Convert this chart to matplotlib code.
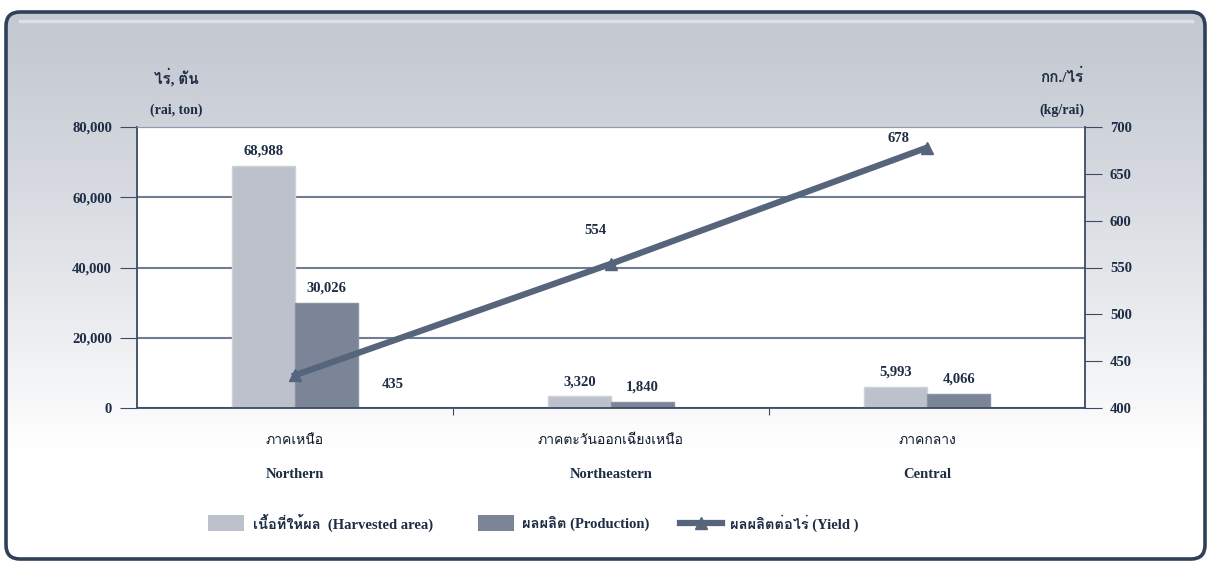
import numpy as np
import matplotlib
matplotlib.use("Agg")
import matplotlib.pyplot as plt
from matplotlib import font_manager, ft2font
from matplotlib.patches import FancyBboxPatch, Rectangle

# data
regions_th = ["ภาคเหนือ", "ภาคตะวันออกเฉียงเหนือ", "ภาคกลาง"]
regions_en = ["Northern", "Northeastern", "Central"]
harvested = [68988, 3320, 5993]
production = [30026, 1840, 4066]
yield_kg = [435, 554, 678]

# find a font that can draw Thai
thai_font = None
for f in font_manager.fontManager.ttflist:
    try:
        if 0x0E01 in ft2font.FT2Font(f.fname).get_charmap():
            thai_font = f.name
            break
    except Exception:
        pass
fams = ["Liberation Serif"] + ([thai_font] if thai_font else []) + ["DejaVu Sans"]
plt.rcParams["font.family"] = fams
plt.rcParams["font.weight"] = "bold"

TXT = "#1e2c44"
LIGHT = "#bcc1cb"
DARK = "#7b8597"
LINE = "#56647c"
FS = 10.5

fig = plt.figure(figsize=(12.11, 5.64), dpi=100)

# outer rounded panel with gradient (pixel coords)
bg = fig.add_axes([0, 0, 1, 1])
bg.set_xlim(0, 1211)
bg.set_ylim(564, 0)
bg.axis("off")
grad = np.linspace(0, 1, 256).reshape(-1, 1)
grad = np.clip(grad / 0.8, 0, 1) ** 1.2
c0 = np.array([0.765, 0.785, 0.82])
c1 = np.array([1.0, 1.0, 1.0])
img = c0 + (c1 - c0) * grad[..., None]
img = np.repeat(img, 2, axis=1)
panel = FancyBboxPatch((6, 12), 1199, 547, boxstyle="round,pad=0,rounding_size=14",
                       facecolor="none", edgecolor="#2f4059", linewidth=2.6, zorder=3)
im = bg.imshow(img, extent=(6, 1205, 559, 12), aspect="auto", zorder=1)
bg.add_patch(panel)
im.set_clip_path(panel)
bg.plot([20, 1192], [21, 21], color="white", lw=2.5, alpha=0.45, zorder=2)

ax = fig.add_axes([137 / 1211, 1 - 408 / 564, (1085 - 137) / 1211, (408 - 127) / 564])
ax.set_facecolor("white")
x = np.arange(len(regions_en))
w = 0.2
ax.bar(x - w / 2, harvested, w, color=LIGHT, edgecolor="#cdd1d8", linewidth=1, zorder=2)
ax.bar(x + w / 2, production, w, color=DARK, edgecolor="#8a93a3", linewidth=1, zorder=2)
ax.set_xlim(-0.5, 2.5)
ax.set_ylim(0, 80000)
ax.set_yticks([0, 20000, 40000, 60000, 80000])
ax.set_yticklabels([f"{v:,}" for v in [0, 20000, 40000, 60000, 80000]])
ax.yaxis.grid(True, color="#6f7c92", linewidth=1.5, zorder=1)
ax.set_axisbelow(True)
ax.set_xticks([0.5, 1.5])
ax.set_xticklabels([])
ax.tick_params(axis="x", length=5, color="#3c4a62", direction="out")
ax.tick_params(axis="y", length=12, color="#3c4a62", labelsize=FS, labelcolor=TXT, pad=6)
for s in ["left", "bottom"]:
    ax.spines[s].set_color("#3c4a62")
    ax.spines[s].set_linewidth(1.3)
ax.spines["top"].set_color("#8f9aab")
ax.spines["right"].set_visible(False)

for i in range(3):
    ax.text(x[i] - w / 2, harvested[i] + 2300, f"{harvested[i]:,}", ha="center", va="bottom",
            fontsize=FS, color=TXT)
    ax.text(x[i] + w / 2, production[i] + 2300, f"{production[i]:,}", ha="center", va="bottom",
            fontsize=FS, color=TXT)

ax2 = ax.twinx()
ax2.set_ylim(400, 700)
ax2.set_yticks(range(400, 701, 50))
ax2.plot(x, yield_kg, color=LINE, lw=4.5, marker="^", markersize=9, zorder=5)
ax2.tick_params(axis="y", length=12, color="#3c4a62", labelsize=FS, labelcolor=TXT, pad=6)
ax2.spines["right"].set_color("#3c4a62")
ax2.spines["right"].set_linewidth(1.3)
for s in ["left", "top", "bottom"]:
    ax2.spines[s].set_visible(False)
offs = [(0.31, -10), (-0.05, 35), (-0.09, 10)]
for i in range(3):
    ax2.text(x[i] + offs[i][0], yield_kg[i] + offs[i][1], str(yield_kg[i]), ha="center",
             va="center", fontsize=FS, color=TXT)

# category labels
for i in range(3):
    xf = (137 + (x[i] + 0.5) * 316) / 1211
    fig.text(xf, 1 - 440 / 564, regions_th[i], ha="center", va="center", fontsize=10,
             color="#0f1a2c", fontweight="normal")
    fig.text(xf, 1 - 475 / 564, regions_en[i], ha="center", va="center", fontsize=FS,
             color=TXT)

# axis headers
bg.text(176, 77, "ไร่, ตัน", ha="center", va="center", fontsize=11, color=TXT, zorder=4)
bg.text(176, 110, "(rai, ton)", ha="center", va="center", fontsize=10, color=TXT, zorder=4)
bg.text(1062, 77, "กก./ไร่", ha="center", va="center", fontsize=11, color=TXT, zorder=4)
bg.text(1062, 110, "(kg/rai)", ha="center", va="center", fontsize=10, color=TXT, zorder=4)

# legend
ly = 523
bg.add_patch(Rectangle((208, ly - 8), 36, 16, facecolor=LIGHT, edgecolor="none", zorder=4))
bg.text(253, ly, "เนื้อที่ให้ผล  (Harvested area)", ha="left", va="center", fontsize=FS,
        color=TXT, zorder=4)
bg.add_patch(Rectangle((478, ly - 8), 36, 16, facecolor=DARK, edgecolor="none", zorder=4))
bg.text(522, ly, "ผลผลิต (Production)", ha="left", va="center", fontsize=FS, color=TXT, zorder=4)
bg.plot([680, 722], [ly, ly], color=LINE, lw=4.5, zorder=4)
bg.plot([701], [ly], color=LINE, marker="^", markersize=9, zorder=4)
bg.text(730, ly, "ผลผลิตต่อไร่ (Yield )", ha="left", va="center", fontsize=FS, color=TXT, zorder=4)

fig.savefig("out.png", dpi=100)
